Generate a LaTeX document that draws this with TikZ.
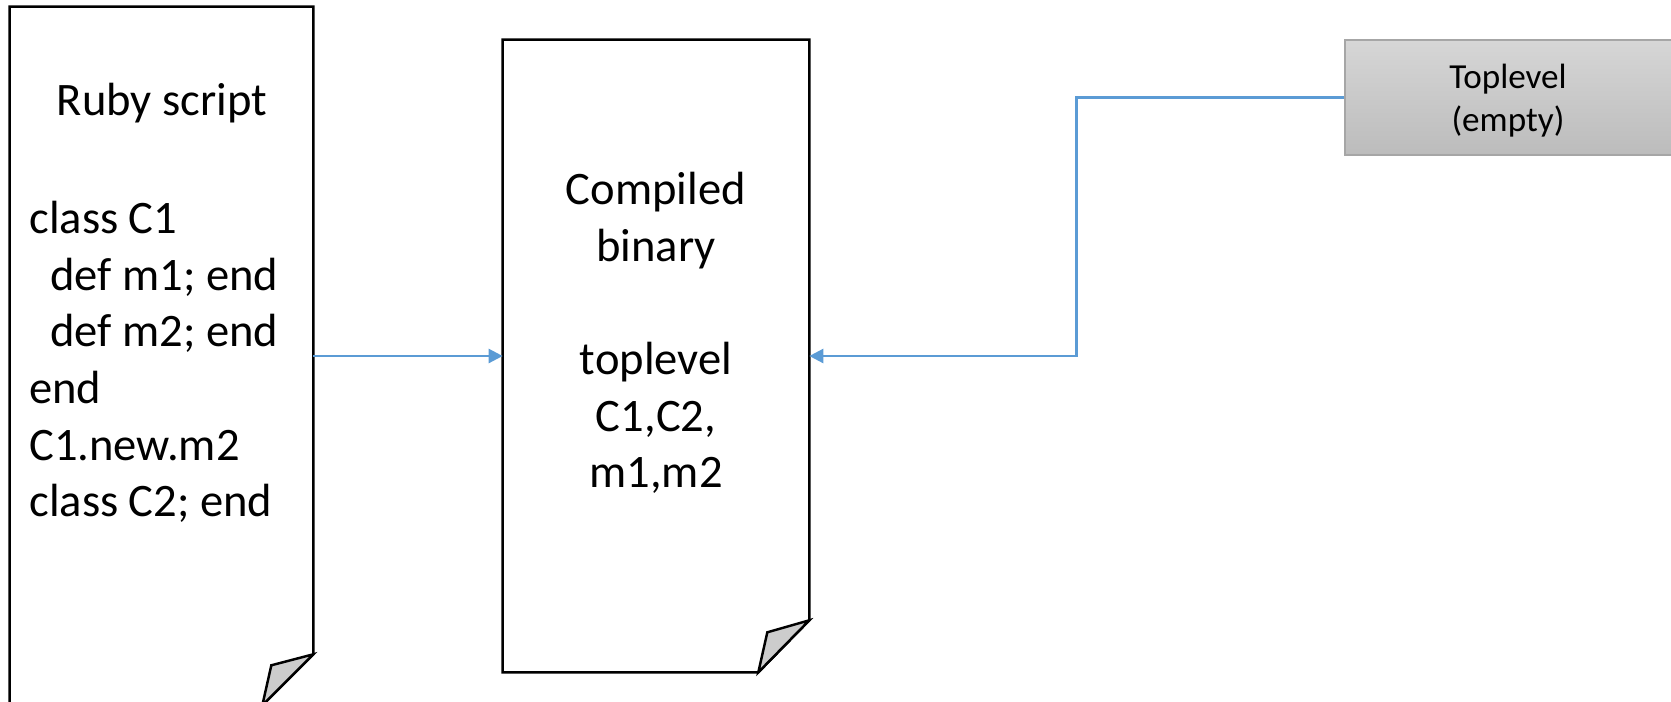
\documentclass[tikz,border=0pt]{standalone}
\usepackage{fontspec}
\setmainfont{Carlito}
\usepackage{tikz}
\usetikzlibrary{arrows.meta,calc}

\definecolor{linkblue}{RGB}{91,155,213}
\definecolor{curlgray}{RGB}{204,204,204}
\definecolor{boxtop}{RGB}{214,214,214}
\definecolor{boxbottom}{RGB}{188,188,188}
\definecolor{boxline}{RGB}{166,166,166}

\tikzset{
  page/.style={inner sep=0pt},
  outline/.style={line width=1.4pt, black, line join=miter},
  curl/.style={line width=1.4pt, black, fill=curlgray},
  bigtext/.style={inner sep=0pt, font=\fontsize{26.5}{32.2}\selectfont},
  topbox/.style={draw=boxline, line width=0.8pt, top color=boxtop, bottom color=boxbottom,
    minimum width=6.6cm, minimum height=2.3cm, align=center, font=\fontsize{20}{24.4}\selectfont},
  conn/.style={line width=1.4pt, linkblue, -{Triangle[length=8pt,width=8pt]}},
}

\begin{document}
\begin{tikzpicture}[x=0.02cm, y=-0.02cm]
    \useasboundingbox (0,0) rectangle (1671,701);

    % Pages (folded corner at the bottom right)
    \node[page, minimum width=6.06cm, minimum height=13.96cm] (ruby) at (161.5,356) {};
    \node[page, minimum width=6.12cm, minimum height=12.64cm] (bin) at (656,356) {};

    \draw[outline] (ruby.north west) -- (ruby.north east) -- ($(ruby.south east)+(0,-51)$)
        -- ($(ruby.south east)+(-51,0)$) -- (ruby.south west) -- cycle;
    \draw[curl] ($(ruby.south east)+(0,-51)$) -- ($(ruby.south east)+(-42,-40)$) -- ($(ruby.south east)+(-51,0)$) -- cycle;

    \draw[outline] (bin.north west) -- (bin.north east) -- ($(bin.south east)+(0,-52)$)
        -- ($(bin.south east)+(-51,0)$) -- (bin.south west) -- cycle;
    \draw[curl] ($(bin.south east)+(0,-52)$) -- ($(bin.south east)+(-42,-40)$) -- ($(bin.south east)+(-51,0)$) -- cycle;

    % Page texts
    \node[bigtext] (rubytitle) at (162,103) {Ruby script};
    \node[bigtext, align=left, anchor=west] (rubycode) at (29,362)
        {class C1\\ \hspace*{0.45em}def m1; end\\ \hspace*{0.45em}def m2; end\\ end\\ C1.new.m2\\ class C2; end};
    \node[bigtext, align=center] (bintext) at (656,333)
        {Compiled\\ binary\\[32.2pt] toplevel\\ C1,C2,\\ m1,m2};

    % Toplevel box
    \node[topbox] (top) at (1510,97.5) {};
    \node[align=center, inner sep=0pt, font=\fontsize{20}{24.4}\selectfont] (toptext) at (1508,101) {Toplevel\\ (empty)};

    % Connectors
    \draw[conn] (ruby.east) -- (bin.west);
    \draw[conn] (top.west) -- ++(-268,0) |- (bin.east);
\end{tikzpicture}
\end{document}
